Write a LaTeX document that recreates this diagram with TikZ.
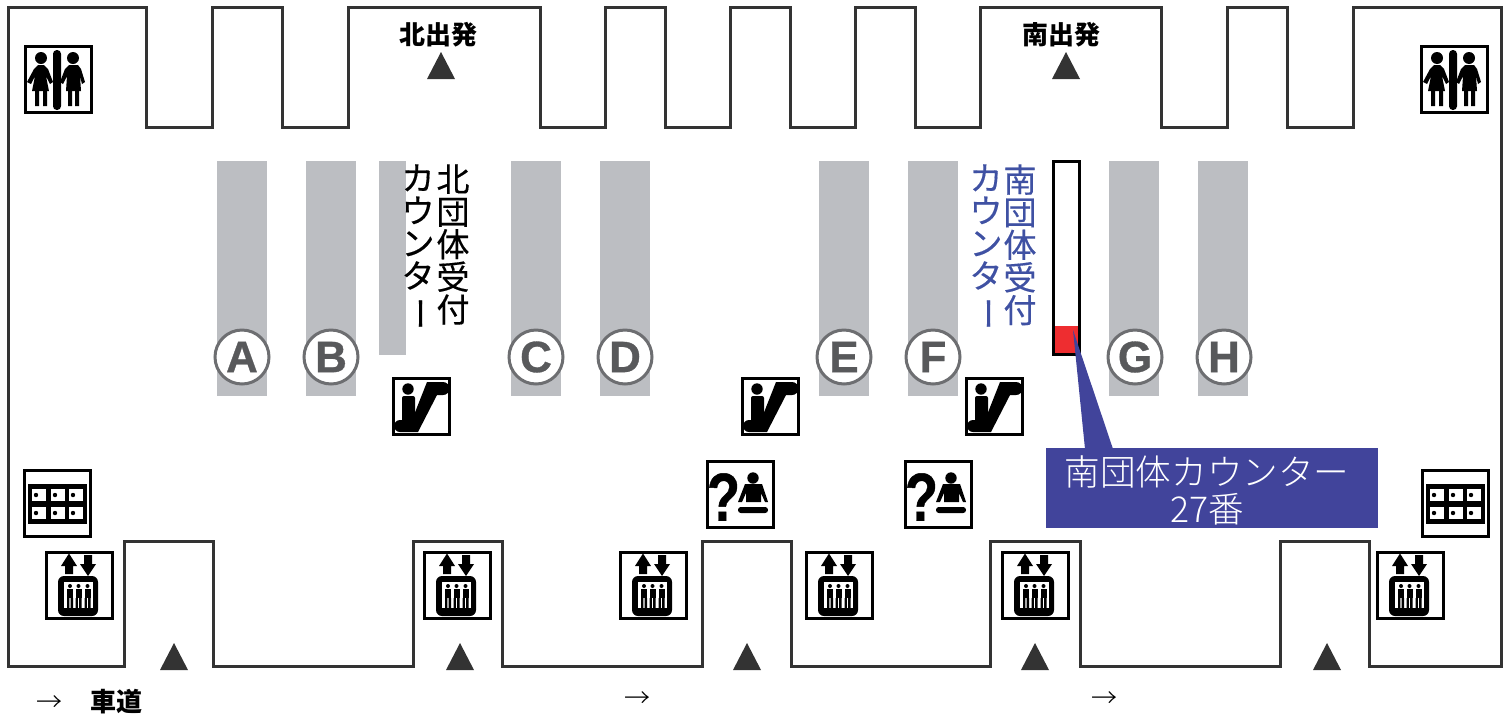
\documentclass[tikz,border=0pt]{standalone}
\usepackage{fontspec}
\setmainfont{Liberation Sans}
\newfontfamily\heavy[BoldFeatures={FakeBold=0.7}]{Liberation Sans}
\newfontfamily\jp{Noto Sans CJK JP}
\newfontfamily\jpm[FakeBold=0.4]{Noto Sans CJK JP}
\newfontfamily\jpl{Noto Sans CJK JP Light}
\definecolor{barc}{HTML}{BCBEC2}
\definecolor{ringc}{HTML}{6D6E71}
\definecolor{letc}{HTML}{58595B}
\definecolor{wallc}{HTML}{333333}
\definecolor{navyc}{HTML}{41449B}
\definecolor{bluet}{HTML}{3F51A3}
\definecolor{redc}{HTML}{EE2D30}
\newcommand{\vbar}{\hspace*{-3pt}\rotatebox[origin=c]{-90}{ー}}
\tikzset{
  x=0.5pt,y=-0.5pt,
  wall/.style={draw=wallc,line width=1.5pt,line join=miter},
  bar/.style={fill=barc,draw=none},
  letter/.style={circle,draw=ringc,line width=1.5pt,fill=white,minimum size=27pt,inner sep=0pt,text=letc,font=\heavy\bfseries\fontsize{22}{22}\selectfont},
  tri/.style={fill=wallc,draw=none},
  vtext/.style={anchor=north,align=center,inner sep=0pt,font=\jpm\fontsize{16.5}{16.3}\selectfont},
  ibox/.style={draw=black,line width=1.5pt,fill=white},
  wcicon/.pic={
    \draw[ibox] (0,0) rectangle (66,66);
    \fill[black,rounded corners=1.9pt] (28,4) rectangle (36,64);
    \fill (16,12) circle[radius=6];
    \fill (6,38) -- (2,36) -- (9,23) -- (13,19) -- (19,19) -- (23,23) -- (28,36) -- (25,38) -- (21,30) -- (24,45) -- (7,45) -- (10,30) -- cycle;
    \fill (10,44) rectangle (14,60) (18,44) rectangle (22,60);
    \fill (48,12) circle[radius=6];
    \fill (38,38) -- (35,36) -- (40,23) -- (44,19) -- (53,19) -- (56,23) -- (60,36) -- (57,38) -- (55,30) -- (56,45) -- (41,45) -- (42,30) -- cycle;
    \fill (43,44) rectangle (47,60) (50,44) rectangle (54,60);
  },
  lifticon/.pic={
    \draw[ibox] (0,0) rectangle (66,66);
    \fill (23,1.5) -- (31,14) -- (27,14) -- (27,22) -- (19,22) -- (19,14) -- (15,14) -- cycle;
    \fill (42,24) -- (50,12) -- (46,12) -- (46,3) -- (38,3) -- (38,12) -- (34,12) -- cycle;
    \fill[rounded corners=3pt] (12,24) rectangle (52,64);
    \fill[white] (18,30) rectangle (47,56);
    \foreach \px in {24,32.5,41.5}{
      \fill (\px,34) circle[radius=2];
      \fill (\px-3,37) rectangle (\px+3,46);
      \fill (\px-3,46) rectangle (\px-.6,56) (\px+.6,46) rectangle (\px+3,56);
    }
  },
  lockericon/.pic={
    \draw[ibox] (0,0) rectangle (66,66);
    \fill (4,14) rectangle (63,54);
    \foreach \cx in {8,27,45}{\foreach \cy in {19,37}{
      \fill[white] (\cx,\cy) rectangle (\cx+14,\cy+12);
      \fill (\cx+4,\cy+6) circle[radius=2.2];
    }}
  },
  escicon/.pic={
    \draw[ibox] (0,0) rectangle (56,56);
    \fill (15,11) circle[radius=5.7];
    \fill[rounded corners=1pt] (9,18) rectangle (22,44);
    \fill (34,4) -- (50,4) arc[start angle=-90,end angle=90,radius=6.5] -- (44,17) -- (25,54) -- (7,54) arc[start angle=90,end angle=270,radius=6] -- (19,42) -- cycle;
  },
  infoicon/.pic={
    \draw[ibox] (0,0) rectangle (66,66);
    \node[inner sep=0pt,font=\heavy\bfseries\fontsize{34}{34}\selectfont] (qm) at (16.5,36) {\scalebox{0.8}[1]{?}};
    \fill (46,17) circle[radius=5.7];
    \fill (38,23) -- (55,23) -- (61,41) -- (58,41) -- (54,32) -- (54,41) -- (39,41) -- (39,32) -- (35,41) -- (31,41) -- cycle;
    \fill[rounded corners=1.4pt] (31,46) rectangle (61,52);
  },
}
\begin{document}
\begin{tikzpicture}
\useasboundingbox (0,0) rectangle (1509,713);
% bars
\foreach \bx in {217,306,511,600,819,908,1109,1198}{\fill[bar] (\bx,161) rectangle +(50,235);}
\fill[bar] (379,161) rectangle (406,355);
% counter
\fill[redc] (1053,326) rectangle (1078,354);
\draw[black,line width=1.5pt] (1053,161) rectangle (1079,354);
% building outline
\draw[wall] (8,7) -- (146,7) -- (146,127) -- (212,127) -- (212,7) -- (282,7) -- (282,127) -- (348,127) -- (348,7)
 -- (540,7) -- (540,127) -- (605,127) -- (605,7) -- (665,7) -- (665,127) -- (730,127) -- (730,7) -- (790,7) -- (790,127) -- (855,127) -- (855,7) -- (915,7) -- (915,127) -- (980,127) -- (980,7)
 -- (1161,7) -- (1161,127) -- (1227,127) -- (1227,7) -- (1287,7) -- (1287,127) -- (1353,127) -- (1353,7) -- (1501,7)
 -- (1501,666) -- (1369,666) -- (1369,541) -- (1280,541) -- (1280,666) -- (1080,666) -- (1080,541) -- (990,541) -- (990,666) -- (791,666) -- (791,541) -- (702,541) -- (702,666) -- (502,666) -- (502,541) -- (413,541) -- (413,666) -- (213,666) -- (213,541) -- (124,541) -- (124,666) -- (8,666) -- cycle;
% triangles
\foreach \tx/\ty in {441/52,1066/52,174/643,460/643,747/643,1035/643,1327/643}{
  \fill[tri] (\tx,\ty) -- (\tx+14,\ty+27) -- (\tx-14,\ty+27) -- cycle;}
% letters
\node[letter] (A) at (242,357) {A};
\node[letter] (B) at (331,357) {B};
\node[letter] (C) at (536,357) {C};
\node[letter] (D) at (625,357) {D};
\node[letter] (E) at (844,357) {E};
\node[letter] (F) at (933,357) {F};
\node[letter] (G) at (1135,357) {G};
\node[letter] (H) at (1224,357) {H};
% labels
\node[inner sep=0pt,font=\jp\bfseries\fontsize{13}{13}\selectfont] (nd) at (438,35) {北出発};
\node[inner sep=0pt,font=\jp\bfseries\fontsize{13}{13}\selectfont] (sd) at (1061,35) {南出発};
\node[vtext] (n1) at (453,164) {北\\団\\体\\受\\付};
\node[vtext] (n2) at (418,164) {カ\\ウ\\ン\\タ\\\vbar};
\node[vtext,text=bluet] (s1) at (1020,164) {南\\団\\体\\受\\付};
\node[vtext,text=bluet] (s2) at (986,164) {カ\\ウ\\ン\\タ\\\vbar};
% callout
\fill[navyc] (1073,330) -- (1113,449) -- (1085,449) -- cycle;
\node[fill=navyc,minimum width=166pt,minimum height=40pt,inner sep=0pt] (call) at (1212,488) {};
\node[inner sep=0pt,text=white,align=center,font=\jpl\fontsize{17.8}{18.5}\selectfont] (calltext) at (1207,490) {南団体カウンター\\27番};
% icons
\pic (w1) at (25,46) {wcicon};
\pic (w2) at (1421,46) {wcicon};
\pic (l1) at (24,470) {lockericon};
\pic (l2) at (1422,470) {lockericon};
\foreach \ex/\ey in {46/552,424/552,620/552,806/552,1002/552,1377/552}{\pic at (\ex,\ey) {lifticon};}
\pic (e1) at (393,378) {escicon};
\pic (e2) at (742,378) {escicon};
\pic (e3) at (966,378) {escicon};
\pic (i1) at (707,461) {infoicon};
\pic (i2) at (905,461) {infoicon};
% bottom text
\node[inner sep=0pt,font=\jpl\fontsize{13}{13}\selectfont] (a1) at (49,704) {→};
\node[inner sep=0pt,font=\jp\bfseries\fontsize{13}{13}\selectfont] (road) at (116,702) {車道};
\node[inner sep=0pt,font=\jpl\fontsize{13}{13}\selectfont] (a2) at (637,700) {→};
\node[inner sep=0pt,font=\jpl\fontsize{13}{13}\selectfont] (a3) at (1104,700) {→};
\end{tikzpicture}
\end{document}
